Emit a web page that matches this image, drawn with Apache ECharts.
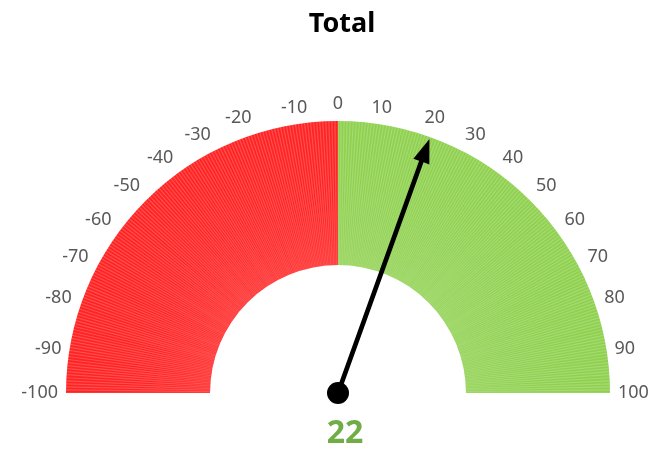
<!DOCTYPE html>
<html>
<head>
<meta charset="utf-8">
<script src="https://cdn.jsdelivr.net/npm/echarts@6/dist/echarts.min.js"></script>
<style>
  html, body { margin: 0; padding: 0; background: #ffffff; }
  #chart { width: 650px; height: 452px; }
</style>
</head>
<body>
<div id="chart"></div>
<script>
// Gauge data
const titleText = 'Total';
const gaugeMin = -100;
const gaugeMax = 100;
const tickStep = 10;
const currentValue = 22;
// colour bands: [end fraction, colour]
const bands = [[0.5, '#ff2323'], [1, '#8fd14f']];

const cx = 338, cy = 393, outerR = 272, innerR = 128;
const ringWidth = outerR - innerR;
const stripeCount = 280;
const labelFont = '"Noto Sans", "DejaVu Sans", sans-serif';

const chart = echarts.init(document.getElementById('chart'));

chart.setOption({
  backgroundColor: '#ffffff',
  animation: false,
  title: {
    text: titleText,
    left: 337,
    textAlign: 'center',
    top: 6,
    textStyle: { fontFamily: labelFont, fontSize: 27, fontWeight: 'bold', color: '#000000' }
  },
  // polar axis used only to place the scale labels outside the ring
  polar: { center: [cx, cy], radius: outerR },
  angleAxis: {
    type: 'value',
    min: gaugeMin,
    max: gaugeMin + (gaugeMax - gaugeMin) * 2,
    interval: tickStep,
    startAngle: 180,
    clockwise: true,
    axisLine: { show: false },
    axisTick: { show: false },
    splitLine: { show: false },
    axisLabel: {
      margin: 8,
      fontFamily: labelFont,
      fontSize: 18,
      color: '#595959',
      formatter: function (v) { return v <= gaugeMax ? String(v) : ''; }
    }
  },
  radiusAxis: { show: false, min: 0, max: 1 },
  series: [
    {
      type: 'gauge',
      center: [cx, cy],
      radius: outerR,
      startAngle: 180,
      endAngle: 0,
      min: gaugeMin,
      max: gaugeMax,
      splitNumber: stripeCount,
      axisLine: { lineStyle: { width: ringWidth, color: bands } },
      // fine radial stripes across the ring
      splitLine: {
        show: true,
        distance: -ringWidth,
        length: ringWidth,
        lineStyle: { color: 'rgba(255,255,255,0.2)', width: 1.2 }
      },
      axisTick: { show: false },
      axisLabel: { show: false },
      pointer: {
        show: true,
        icon: 'path://M9 0 L18 24 L11.5 24 L11.5 270 L6.5 270 L6.5 24 L0 24 Z',
        length: 270,
        width: 17,
        offsetCenter: [0, 0],
        itemStyle: { color: '#000000' }
      },
      anchor: {
        show: true,
        showAbove: true,
        size: 22,
        itemStyle: { color: '#000000' }
      },
      title: { show: false },
      detail: {
        show: true,
        offsetCenter: [7, 41],
        fontFamily: labelFont,
        fontSize: 32,
        fontWeight: 'bold',
        color: '#70ad47',
        formatter: '{value}'
      },
      data: [{ value: currentValue }]
    }
  ]
});
</script>
</body>
</html>
